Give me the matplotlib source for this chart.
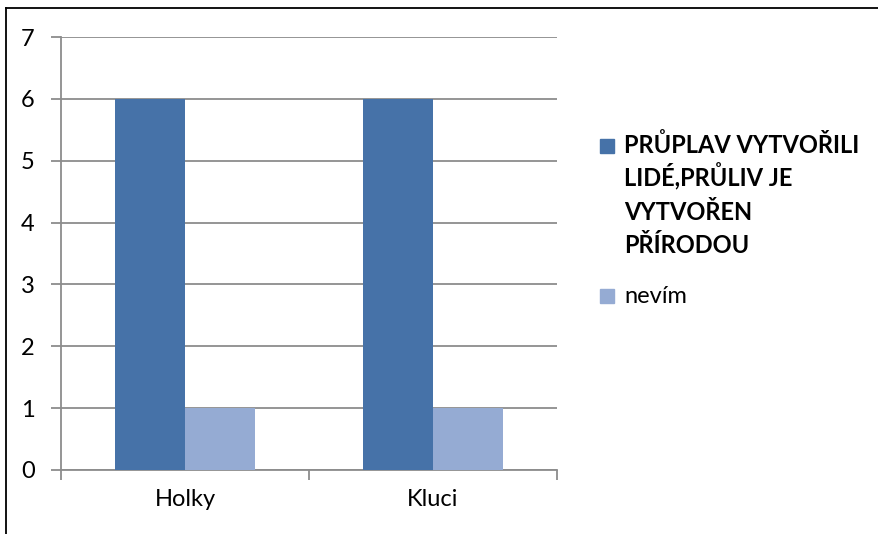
import matplotlib
matplotlib.use("Agg")
import matplotlib.pyplot as plt
from matplotlib.lines import Line2D
from matplotlib.patches import Rectangle
import numpy as np

plt.rcParams['font.family'] = ['Lato', 'DejaVu Sans']

categories = ["Holky", "Kluci"]
series_names = ["PRŮPLAV VYTVOŘILI\nLIDÉ,PRŮLIV JE\nVYTVOŘEN\nPŘÍRODOU", "nevím"]
vals_a = [6, 6]
vals_b = [1, 1]
colors = ["#4672A8", "#95ABD3"]

W, H = 879, 534
fig = plt.figure(figsize=(W / 100, H / 100), dpi=100)
ax = fig.add_axes([61 / W, 1 - 470 / H, (557 - 61) / W, (470 - 37) / H])

x = np.arange(len(categories))
bw = 0.283
ax.bar(x - bw / 2, vals_a, bw, color=colors[0], zorder=3)
ax.bar(x + bw / 2, vals_b, bw, color=colors[1], zorder=3)

ax.set_xlim(-0.5, len(categories) - 0.5)
ax.set_ylim(0, 7)
ax.set_yticks(range(0, 8))
ax.yaxis.grid(True, color="#8c8c8c", linewidth=1.3, zorder=0)

# category labels between boundary ticks
ax.set_xticks(np.arange(-0.5, len(categories)), minor=False)
ax.set_xticklabels([])
ax.set_xticks(x, minor=True)
ax.set_xticklabels(categories, minor=True)
ax.tick_params(axis="x", which="major", length=7, width=1.3, color="#8c8c8c")
ax.tick_params(axis="x", which="minor", length=0, pad=14, labelsize=17)
ax.tick_params(axis="y", length=7, width=1.3, color="#8c8c8c", labelsize=17, pad=12)

for s in ["top", "right"]:
    ax.spines[s].set_visible(False)
for s in ["left", "bottom"]:
    ax.spines[s].set_color("#8c8c8c")
    ax.spines[s].set_linewidth(1.3)

# legend drawn by hand: square lines up with the first text line
leg_y = [153, 303]
line_step = 33.3
for name, col, yb, bold in zip(series_names, colors, leg_y, [True, False]):
    fig.add_artist(Rectangle((600 / W, 1 - yb / H), 14 / W, 14 / H,
                             transform=fig.transFigure, color=col))
    for i, line in enumerate(name.split("\n")):
        fig.text(624 / W, 1 - (yb + i * line_step) / H, line, fontsize=17,
                 va="baseline", ha="left",
                 fontweight="bold" if bold else "normal")

# outer frame (cut off at right and bottom)
fig.add_artist(Line2D([6 / W, 1], [1 - 7.5 / H, 1 - 7.5 / H], color="black", linewidth=1.3))
fig.add_artist(Line2D([6 / W, 6 / W], [0, 1 - 7.5 / H], color="black", linewidth=1.3))

fig.savefig("out.png", dpi=100)
